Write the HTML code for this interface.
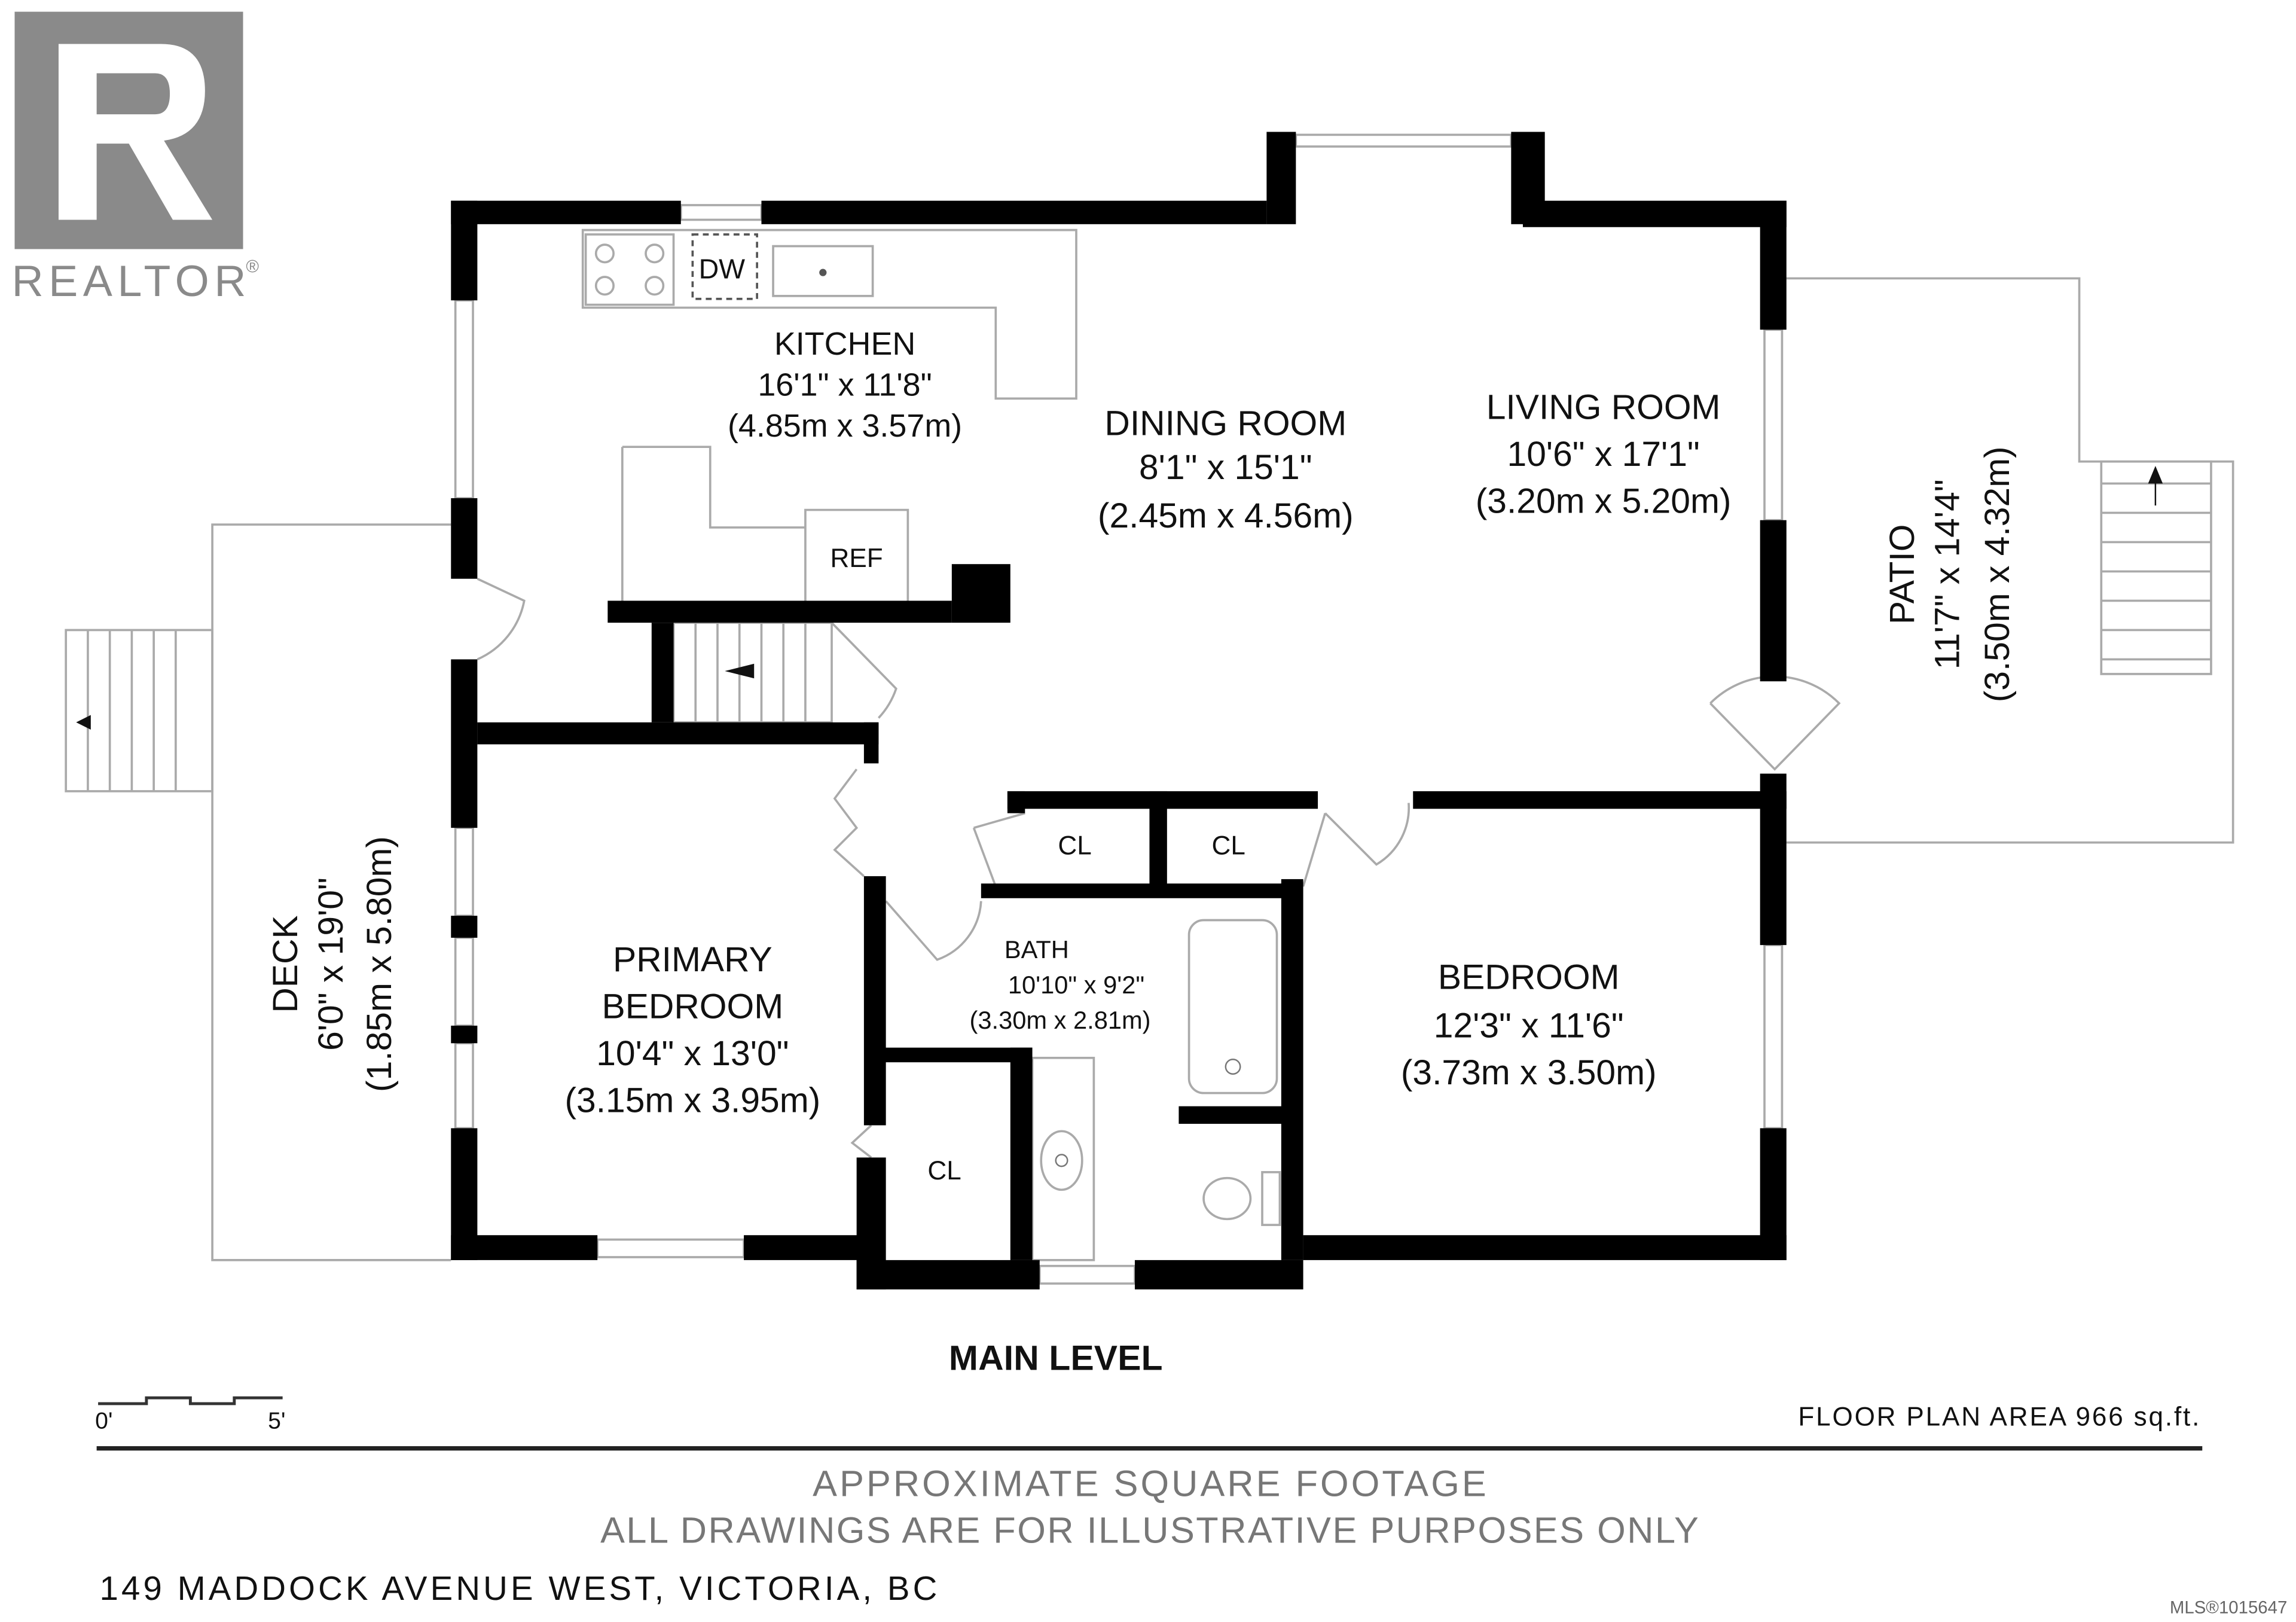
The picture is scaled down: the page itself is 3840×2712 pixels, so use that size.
<!DOCTYPE html>
<html><head><meta charset="utf-8"><style>
html,body{margin:0;padding:0;background:#fff;}
svg{display:block;}
text{font-family:"Liberation Sans",sans-serif;fill:#111;}
</style></head><body>
<svg width="3840" height="2712" viewBox="0 0 1568 1107" preserveAspectRatio="none" xmlns="http://www.w3.org/2000/svg">
<rect width="1568" height="1107" fill="#fff"/>
<!-- REALTOR logo -->
<rect x="10" y="8" width="156" height="162" fill="#8a8a8a"/>
<path d="M40 30 H110 Q140 30 140 62 Q140 92 112 96 L145 150 H118 L88 98 H66 V150 H40 Z M66 50 V78 H106 Q116 78 116 64 Q116 50 106 50 Z" fill="#fff" fill-rule="evenodd"/>
<text x="8" y="202" font-size="30" style="fill:#8a8a8a" textLength="160">REALTOR</text>
<text x="168" y="186" font-size="12" style="fill:#8a8a8a">®</text>

<g fill="none" stroke="#aaa" stroke-width="1.5">
<path d="M308 358 H145 V860 H308"/>
<rect x="45" y="430" width="100" height="110"/>
<path d="M60 430 V540 M75 430 V540 M90 430 V540 M105 430 V540 M120 430 V540"/>
<path d="M1220 190 H1420 V315 H1525 V575 H1220"/>
<rect x="1435" y="315" width="75" height="145"/>
<path d="M1435 330 H1510 M1435 350 H1510 M1435 370 H1510 M1435 390 H1510 M1435 410 H1510 M1435 430 H1510 M1435 450 H1510"/>
<rect x="465" y="140" width="55" height="10"/>
<rect x="885" y="92" width="147" height="8"/>
<rect x="311" y="205" width="12" height="135"/>
<rect x="1205" y="225" width="12" height="130"/>
<rect x="1205" y="645" width="12" height="125"/>
<rect x="311" y="565" width="12" height="60"/>
<rect x="311" y="640" width="12" height="60"/>
<rect x="311" y="712" width="12" height="58"/>
<rect x="408" y="846" width="100" height="12"/>
<rect x="710" y="864" width="65" height="12"/>
<path d="M398 157 H735 V272 H680 V210 H398 Z"/>
<path d="M425 305 V410 M425 305 H485 V360 H550 V348 H620 V410 M550 360 V410"/>
<rect x="400" y="160" width="60" height="48"/>
<circle cx="413" cy="173" r="6"/><circle cx="413" cy="195" r="6"/><circle cx="447" cy="173" r="6"/><circle cx="447" cy="195" r="6"/>
<rect x="528" y="168" width="68" height="34"/>
<rect x="705" y="722" width="42" height="138"/>
<rect x="812" y="628" width="60" height="118" rx="10"/>
<ellipse cx="725" cy="792" rx="14" ry="20"/>
<ellipse cx="838" cy="818" rx="16" ry="14"/>
<rect x="862" y="800" width="12" height="36"/>
<rect x="460" y="425" width="108" height="68"/>
<path d="M475 425 V493 M490 425 V493 M505 425 V493 M520 425 V493 M535 425 V493 M550 425 V493"/>
<path d="M326 395 L358 410 A55 55 0 0 1 326 450"/>
<path d="M568 425 L612 470 A55 55 0 0 1 600 490"/>
<path d="M1168 480 L1212 525 L1256 480 A62 62 0 0 0 1168 480"/>
<path d="M585 525 L570 545 L585 565 L570 580 L590 598"/>
<path d="M605 615 L640 655 A45 45 0 0 0 670 615"/>
<path d="M665 565 L680 605 M700 555 L665 565"/>
<path d="M905 555 L940 590 A45 45 0 0 0 962 548"/>
<path d="M905 555 L890 605"/>
<path d="M595 768 L582 780 L595 790"/>
</g>
<rect x="473" y="160" width="44" height="44" fill="none" stroke="#555" stroke-width="1.5" stroke-dasharray="4 3"/>
<circle cx="562" cy="186" r="2.5" fill="#555"/>
<circle cx="725" cy="792" r="4" fill="none" stroke="#777"/>
<circle cx="842" cy="728" r="5" fill="none" stroke="#777"/>
<path d="M495 458 L515 453 L515 463 Z M52 493 L62 488 L62 498 Z M1472 318 L1467 330 L1477 330 Z" fill="#111"/>
<path d="M1472 328 V345" stroke="#111"/>

<g fill="#000">
<rect x="308" y="137" width="157" height="16"/>
<rect x="520" y="137" width="345" height="16"/>
<rect x="865" y="90" width="20" height="63"/>
<rect x="1032" y="90" width="23" height="63"/>
<rect x="1040" y="137" width="180" height="18"/>
<rect x="1202" y="137" width="18" height="88"/>
<rect x="1202" y="355" width="18" height="110"/>
<rect x="1202" y="528" width="18" height="117"/>
<rect x="1202" y="770" width="18" height="90"/>
<rect x="308" y="137" width="18" height="68"/>
<rect x="308" y="340" width="18" height="55"/>
<rect x="308" y="450" width="18" height="115"/>
<rect x="308" y="625" width="18" height="15"/>
<rect x="308" y="700" width="18" height="12"/>
<rect x="308" y="770" width="18" height="90"/>
<rect x="308" y="843" width="100" height="17"/>
<rect x="508" y="843" width="92" height="17"/>
<rect x="585" y="860" width="125" height="20"/>
<rect x="775" y="860" width="115" height="20"/>
<rect x="890" y="843" width="330" height="17"/>
<rect x="326" y="493" width="274" height="15"/>
<rect x="590" y="493" width="10" height="28"/>
<rect x="415" y="410" width="235" height="15"/>
<rect x="445" y="425" width="15" height="68"/>
<rect x="650" y="385" width="40" height="40"/>
<rect x="688" y="540" width="212" height="12"/>
<rect x="688" y="540" width="12" height="15"/>
<rect x="785" y="540" width="12" height="70"/>
<rect x="670" y="603" width="215" height="10"/>
<rect x="590" y="598" width="15" height="170"/>
<rect x="585" y="790" width="20" height="90"/>
<rect x="600" y="715" width="105" height="10"/>
<rect x="690" y="715" width="15" height="145"/>
<rect x="875" y="600" width="15" height="260"/>
<rect x="805" y="755" width="75" height="12"/>
<rect x="965" y="540" width="255" height="12"/>
</g>

<g text-anchor="middle" font-size="22">
<text x="493" y="190" font-size="19">DW</text>
<text x="577" y="242">KITCHEN</text>
<text x="577" y="270">16'1" x 11'8"</text>
<text x="577" y="298">(4.85m x 3.57m)</text>
<text x="585" y="387" font-size="18">REF</text>
<text x="837" y="297" font-size="24">DINING ROOM</text>
<text x="837" y="327" font-size="24">8'1" x 15'1"</text>
<text x="837" y="360" font-size="24">(2.45m x 4.56m)</text>
<text x="1095" y="286" font-size="24">LIVING ROOM</text>
<text x="1095" y="318" font-size="24">10'6" x 17'1"</text>
<text x="1095" y="350" font-size="24">(3.20m x 5.20m)</text>
<text x="734" y="583" font-size="18">CL</text>
<text x="839" y="583" font-size="18">CL</text>
<text x="645" y="805" font-size="18">CL</text>
<text x="708" y="654" font-size="17">BATH</text>
<text x="735" y="678" font-size="17">10'10" x 9'2"</text>
<text x="724" y="702" font-size="17">(3.30m x 2.81m)</text>
<text x="473" y="663" font-size="24">PRIMARY</text>
<text x="473" y="695" font-size="24">BEDROOM</text>
<text x="473" y="727" font-size="24">10'4" x 13'0"</text>
<text x="473" y="759" font-size="24">(3.15m x 3.95m)</text>
<text x="1044" y="675" font-size="24">BEDROOM</text>
<text x="1044" y="708" font-size="24">12'3" x 11'6"</text>
<text x="1044" y="740" font-size="24">(3.73m x 3.50m)</text>
<text transform="translate(203 658) rotate(-90)" font-size="24">DECK</text>
<text transform="translate(234 658) rotate(-90)" font-size="24">6'0" x 19'0"</text>
<text transform="translate(267 658) rotate(-90)" font-size="24">(1.85m x 5.80m)</text>
<text transform="translate(1307 392) rotate(-90)" font-size="24">PATIO</text>
<text transform="translate(1338 392) rotate(-90)" font-size="24">11'7" x 14'4"</text>
<text transform="translate(1372 392) rotate(-90)" font-size="24">(3.50m x 4.32m)</text>
</g>
<text x="648" y="935" font-size="24" font-weight="bold" textLength="146">MAIN LEVEL</text>
<text x="555" y="1021" font-size="25" style="fill:#777" textLength="460">APPROXIMATE SQUARE FOOTAGE</text>
<text x="410" y="1053" font-size="25" style="fill:#777" textLength="750">ALL DRAWINGS ARE FOR ILLUSTRATIVE PURPOSES ONLY</text>
<path d="M67 958 H100 V954 H130 V958 H160 V954 H193" fill="none" stroke="#333" stroke-width="2"/>
<text x="65" y="975" font-size="16">0'</text>
<text x="183" y="975" font-size="16">5'</text>
<text x="1228" y="973" font-size="18" textLength="274">FLOOR PLAN AREA 966 sq.ft.</text>
<rect x="66" y="987" width="1438" height="3" fill="#222"/>
<text x="68" y="1092" font-size="23" textLength="572">149 MADDOCK AVENUE WEST, VICTORIA, BC</text>
<text x="1562" y="1101" font-size="12" text-anchor="end" style="fill:#666">MLS®1015647</text>
</svg>
</body></html>
